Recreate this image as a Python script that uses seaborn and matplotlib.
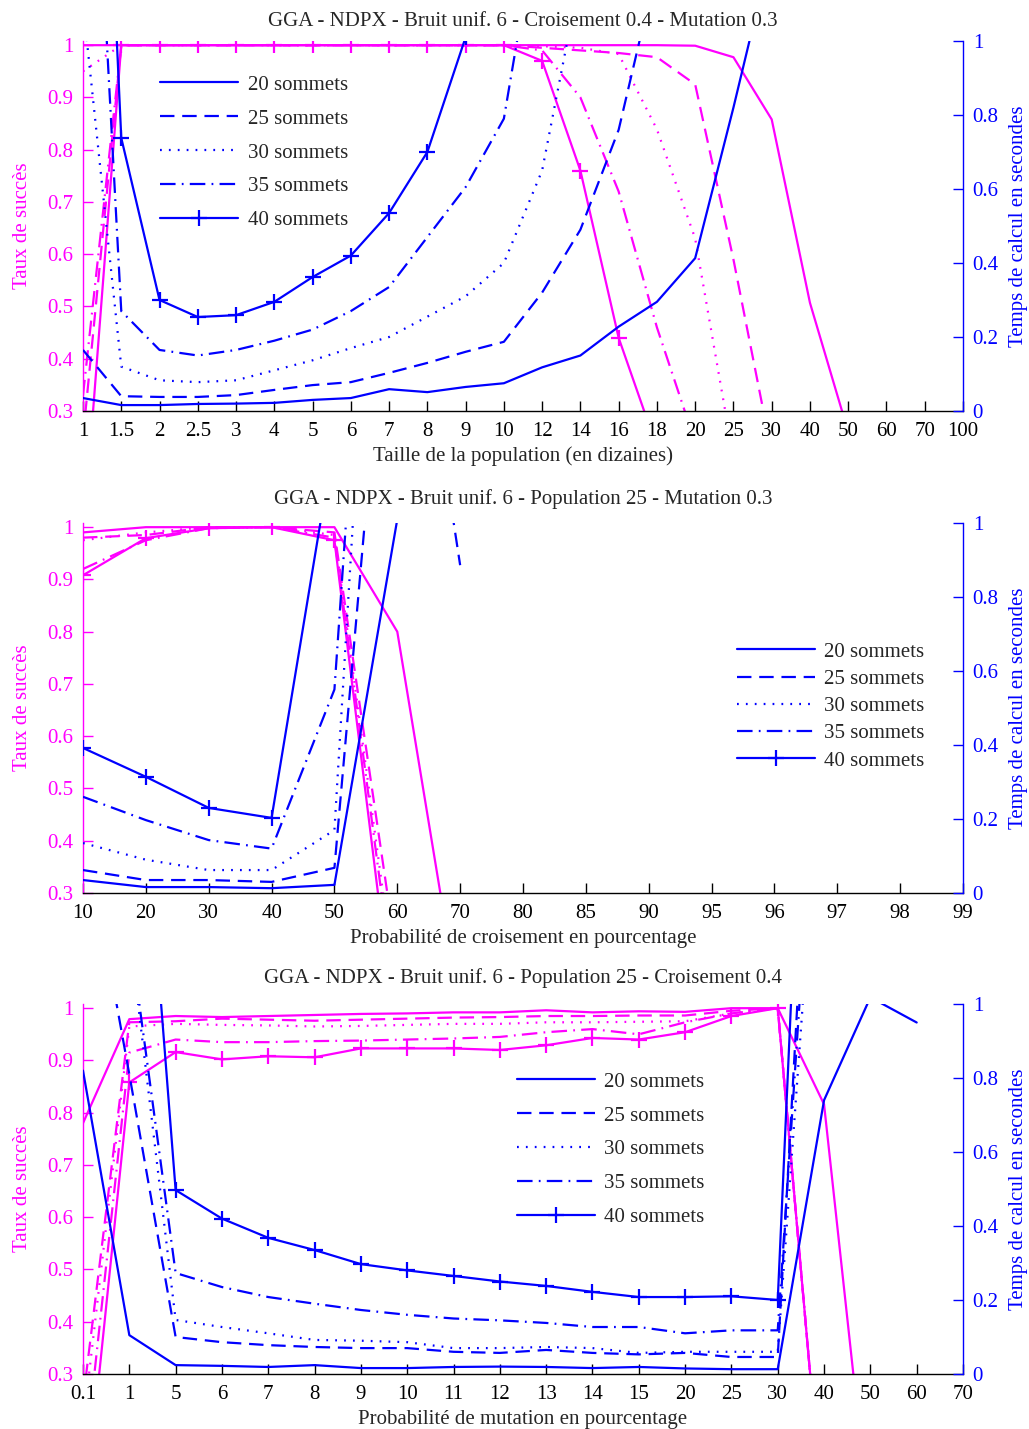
import numpy as np
import matplotlib
matplotlib.use("Agg")
import matplotlib.pyplot as plt
import seaborn as sns

nan = np.nan

# ---------------- data ----------------
series_labels = ["20 sommets", "25 sommets", "30 sommets", "35 sommets", "40 sommets"]

# Panel 1 : population size
x1_labels = ["1", "1.5", "2", "2.5", "3", "4", "5", "6", "7", "8", "9", "10", "12", "14",
             "16", "18", "20", "25", "30", "40", "50", "60", "70", "100"]
succ1_20 = [1.0, 1.0, 1.0, 1.0, 1.0, 1.0, 1.0, 1.0, 1.0, 1.0, 1.0, 1.0, 1.0, 1.0, 1.0, 1.0,
            0.999, 0.977, 0.858, 0.507, 0.26, 0.12, 0.05, 0.01]
succ1_25 = [0.25, 1.0, 1.0, 1.0, 1.0, 1.0, 1.0, 1.0, 1.0, 1.0, 1.0, 1.0, 0.995, 0.99, 0.985,
            0.977, 0.925, 0.59, 0.22, 0.05, 0.02, 0.01, 0.0, 0.0]
succ1_30 = [0.95, 1.0, 1.0, 1.0, 1.0, 1.0, 1.0, 1.0, 1.0, 1.0, 1.0, 1.0, 0.998, 0.995, 0.983,
            0.839, 0.63, 0.21, 0.05, 0.01, 0.0, 0.0, 0.0, 0.0]
succ1_35 = [0.33, 1.0, 1.0, 1.0, 1.0, 1.0, 1.0, 1.0, 1.0, 1.0, 1.0, 1.0, 0.99, 0.9, 0.72,
            0.46, 0.24, 0.05, 0.01, 0.0, 0.0, 0.0, 0.0, 0.0]
succ1_40 = [0.05, 1.0, 1.0, 1.0, 1.0, 1.0, 1.0, 1.0, 1.0, 1.0, 1.0, 1.0, 0.97, 0.76, 0.44,
            0.23, 0.05, 0.0, 0.0, 0.0, 0.0, 0.0, 0.0, 0.0]
time1_20 = [0.035, 0.016, 0.016, 0.019, 0.02, 0.022, 0.03, 0.035, 0.059, 0.051, 0.065, 0.075,
            0.118, 0.15, 0.228, 0.295, 0.413, 0.82, 1.25, nan, nan, nan, nan, nan]
time1_25 = [0.165, 0.04, 0.038, 0.038, 0.043, 0.057, 0.07, 0.078, 0.103, 0.13, 0.16, 0.187,
            0.32, 0.49, 0.76, 1.2, nan, nan, nan, nan, nan, nan, nan, nan]
time1_30 = [1.1, 0.12, 0.083, 0.078, 0.083, 0.11, 0.137, 0.17, 0.2, 0.255, 0.31, 0.4,
            0.65, 1.18, nan, nan, nan, nan, nan, nan, nan, nan, nan, nan]
time1_35 = [2.2, 0.27, 0.165, 0.15, 0.165, 0.19, 0.22, 0.27, 0.335, 0.47, 0.605, 0.79,
            1.4, nan, nan, nan, nan, nan, nan, nan, nan, nan, nan, nan]
time1_40 = [3.0, 0.738, 0.3, 0.254, 0.259, 0.295, 0.362, 0.42, 0.535, 0.70, 1.01, 1.4,
            nan, nan, nan, nan, nan, nan, nan, nan, nan, nan, nan, nan]

# Panel 2 : crossover probability
x2_labels = ["10", "20", "30", "40", "50", "60", "70", "80", "85", "90", "95", "96", "97", "98", "99"]
succ2_20 = [0.99, 1.0, 1.0, 1.0, 1.0, 0.80, 0.07, nan, nan, nan, nan, nan, nan, nan, nan]
succ2_25 = [0.98, 0.985, 1.0, 1.0, 0.99, 0.17, 0.0, nan, nan, nan, nan, nan, nan, nan, nan]
succ2_30 = [0.975, 0.99, 1.0, 1.0, 0.985, 0.1, 0.0, nan, nan, nan, nan, nan, nan, nan, nan]
succ2_35 = [0.92, 0.975, 0.998, 1.0, 0.98, 0.07, 0.0, nan, nan, nan, nan, nan, nan, nan, nan]
succ2_40 = [0.908, 0.979, 0.998, 1.0, 0.975, 0.0, 0.0, nan, nan, nan, nan, nan, nan, nan, nan]
time2_20 = [0.035, 0.016, 0.016, 0.013, 0.022, 1.01, 1.8, nan, nan, nan, nan, nan, nan, nan, nan]
time2_25 = [0.062, 0.035, 0.035, 0.03, 0.068, 2.0, 0.886, nan, nan, nan, nan, nan, nan, nan, nan]
time2_30 = [0.135, 0.09, 0.062, 0.062, 0.17, 3.0, 2.5, nan, nan, nan, nan, nan, nan, nan, nan]
time2_35 = [0.26, 0.197, 0.143, 0.12, 0.55, 3.0, 2.5, nan, nan, nan, nan, nan, nan, nan, nan]
time2_40 = [0.392, 0.314, 0.23, 0.203, 1.23, 2.5, 2.0, nan, nan, nan, nan, nan, nan, nan, nan]

# Panel 3 : mutation probability
x3_labels = ["0.1", "1", "5", "6", "7", "8", "9", "10", "11", "12", "13", "14", "15", "20",
             "25", "30", "40", "50", "60", "70"]
succ3_20 = [0.78, 0.979, 0.985, 0.983, 0.985, 0.987, 0.989, 0.99, 0.992, 0.992, 0.996, 0.992,
            0.994, 0.993, 1.0, 1.0, 0.816, 0.0, 0.0, 0.0]
succ3_25 = [0.25, 0.973, 0.975, 0.98, 0.978, 0.976, 0.978, 0.98, 0.982, 0.983, 0.985, 0.985,
            0.986, 0.986, 0.995, 1.0, 0.0, 0.0, 0.0, 0.0]
succ3_30 = [0.2, 0.965, 0.97, 0.968, 0.967, 0.965, 0.966, 0.968, 0.97, 0.97, 0.973, 0.973,
            0.974, 0.975, 0.99, 1.0, 0.0, 0.0, 0.0, 0.0]
succ3_35 = [0.1, 0.915, 0.94, 0.935, 0.935, 0.937, 0.938, 0.94, 0.942, 0.945, 0.954, 0.96,
            0.95, 0.973, 0.99, 1.0, 0.0, 0.0, 0.0, 0.0]
succ3_40 = [0.0, 0.858, 0.916, 0.902, 0.908, 0.906, 0.923, 0.923, 0.923, 0.92, 0.929, 0.943,
            0.94, 0.954, 0.985, 1.0, 0.0, 0.0, 0.0, 0.0]
time3_20 = [0.82, 0.105, 0.024, 0.022, 0.019, 0.024, 0.016, 0.016, 0.019, 0.02, 0.019, 0.016,
            0.019, 0.015, 0.013, 0.013, 0.74, 1.018, 0.95, nan]
time3_25 = [1.5, 0.81, 0.1, 0.086, 0.078, 0.073, 0.07, 0.07, 0.06, 0.057, 0.065, 0.057,
            0.053, 0.057, 0.046, 0.046, 2.3, nan, nan, nan]
time3_30 = [2.0, 1.2, 0.146, 0.127, 0.11, 0.092, 0.09, 0.086, 0.07, 0.07, 0.073, 0.07,
            0.057, 0.06, 0.06, 0.06, 1.8, nan, nan, nan]
time3_35 = [2.5, 1.2, 0.273, 0.235, 0.208, 0.19, 0.173, 0.16, 0.15, 0.145, 0.138, 0.127,
            0.127, 0.11, 0.118, 0.118, 2.0, nan, nan, nan]
time3_40 = [3.0, 2.1, 0.497, 0.42, 0.368, 0.335, 0.297, 0.28, 0.265, 0.25, 0.238, 0.222,
            0.208, 0.208, 0.21, 0.2, 3.0, nan, nan, nan]

left_ticks = [0.3, 0.4, 0.5, 0.6, 0.7, 0.8, 0.9, 1.0]
left_ticklabels = ["0.3", "0.4", "0.5", "0.6", "0.7", "0.8", "0.9", "1"]
right_ticks = [0.0, 0.2, 0.4, 0.6, 0.8, 1.0]
right_ticklabels = ["0", "0.2", "0.4", "0.6", "0.8", "1"]

titles = ["GGA - NDPX - Bruit unif. 6 - Croisement 0.4 - Mutation 0.3",
          "GGA - NDPX - Bruit unif. 6 - Population 25 - Mutation 0.3",
          "GGA - NDPX - Bruit unif. 6 - Population 25 - Croisement 0.4"]
xlabels = ["Taille de la population (en dizaines)",
           "Probabilité de croisement en pourcentage",
           "Probabilité de mutation en pourcentage"]
ylabel_left = "Taux de succès"
ylabel_right = "Temps de calcul en secondes"

# ---------------- style ----------------
sns.set_theme(style="white")
plt.rcParams['font.family'] = ['Liberation Serif', 'DejaVu Serif']
plt.rcParams['axes.unicode_minus'] = False

MAG = "#ff00ff"
BLU = "#0000ff"
LW = 1.6
STYLES = ["-", (0, (6.5, 3.5)), (0, (0.8, 3.2)), (0, (7, 2.8, 0.8, 2.8)), "-"]
FS = 15

W, H = 1029, 1429
fig = plt.figure(figsize=(W / 100, H / 100), dpi=100)


def panel(top_px, bot_px, xl, succ, times, title, xlabel, leg_xy, leg_spacing, title_pad):
    rect = [83 / W, 1 - bot_px / H, 880 / W, (bot_px - top_px) / H]
    ax = fig.add_axes(rect)
    ax2 = ax.twinx()
    x = np.arange(len(xl))
    for i, s in enumerate(succ):
        kw = dict(color=MAG, linestyle=STYLES[i], linewidth=LW)
        if i == 4:
            kw.update(marker="+", markersize=12, markeredgewidth=1.6, markeredgecolor=MAG)
        sns.lineplot(x=x, y=np.array(s, dtype=float), ax=ax, **kw)
    handles = []
    for i, t in enumerate(times):
        kw = dict(color=BLU, linestyle=STYLES[i], linewidth=LW)
        if i == 4:
            kw.update(marker="+", markersize=12, markeredgewidth=1.6, markeredgecolor=BLU)
        sns.lineplot(x=x, y=np.array(t, dtype=float), ax=ax2, **kw)
        handles.append(ax2.get_lines()[-1])

    ax.set_xlim(0, len(xl) - 1)
    ax.set_ylim(0.3, 1.008)
    ax2.set_ylim(0.0, 1.0)
    ax.set_xticks(x)
    ax.set_xticklabels(xl, fontsize=FS)
    ax.set_yticks(left_ticks)
    ax.set_yticklabels(left_ticklabels, fontsize=FS, color=MAG)
    ax2.set_yticks(right_ticks)
    ax2.set_yticklabels(right_ticklabels, fontsize=FS, color=BLU)

    for a in (ax, ax2):
        a.set_facecolor("none")
        a.grid(False)
        for sp in a.spines.values():
            sp.set_visible(False)
    ax.patch.set_facecolor("white")
    ax.spines["left"].set_visible(True)
    ax.spines["left"].set_color(MAG)
    ax.spines["bottom"].set_visible(True)
    ax.spines["bottom"].set_color("black")
    ax2.spines["right"].set_visible(True)
    ax2.spines["right"].set_color(BLU)
    for sp in ("left", "bottom"):
        ax.spines[sp].set_linewidth(1.0)
    ax2.spines["right"].set_linewidth(1.0)

    ax.tick_params(axis="x", direction="in", length=7, width=1, colors="black", pad=8,
                   bottom=True, top=False)
    ax.tick_params(axis="y", direction="in", length=7, width=1, colors=MAG, pad=7,
                   left=True, right=False)
    ax2.tick_params(axis="y", direction="in", length=7, width=1, colors=BLU, pad=7,
                    right=True, left=False)

    ax.set_xlabel(xlabel, fontsize=FS, labelpad=4)
    ax.set_ylabel(ylabel_left, fontsize=FS, color=MAG, labelpad=11)
    ax2.set_ylabel(ylabel_right, fontsize=FS, color=BLU, labelpad=7.5)
    ax.set_title(title, fontsize=FS, pad=title_pad)

    ax2.legend(handles, series_labels, loc="upper left",
               bbox_to_anchor=(leg_xy[0] / W, 1 - leg_xy[1] / H),
               bbox_transform=fig.transFigure, frameon=False, fontsize=FS,
               handlelength=3.75, handletextpad=0.45, labelspacing=leg_spacing,
               borderpad=0, borderaxespad=0)
    return ax, ax2


panel(41, 411, x1_labels,
      [succ1_20, succ1_25, succ1_30, succ1_35, succ1_40],
      [time1_20, time1_25, time1_30, time1_35, time1_40],
      titles[0], xlabels[0], (160, 75), 0.69, 11)
panel(523, 893, x2_labels,
      [succ2_20, succ2_25, succ2_30, succ2_35, succ2_40],
      [time2_20, time2_25, time2_30, time2_35, time2_40],
      titles[1], xlabels[1], (737, 642), 0.37, 14)
panel(1004, 1374, x3_labels,
      [succ3_20, succ3_25, succ3_30, succ3_35, succ3_40],
      [time3_20, time3_25, time3_30, time3_35, time3_40],
      titles[2], xlabels[2], (517, 1072), 0.69, 15)

fig.savefig("out.png", dpi=100)
